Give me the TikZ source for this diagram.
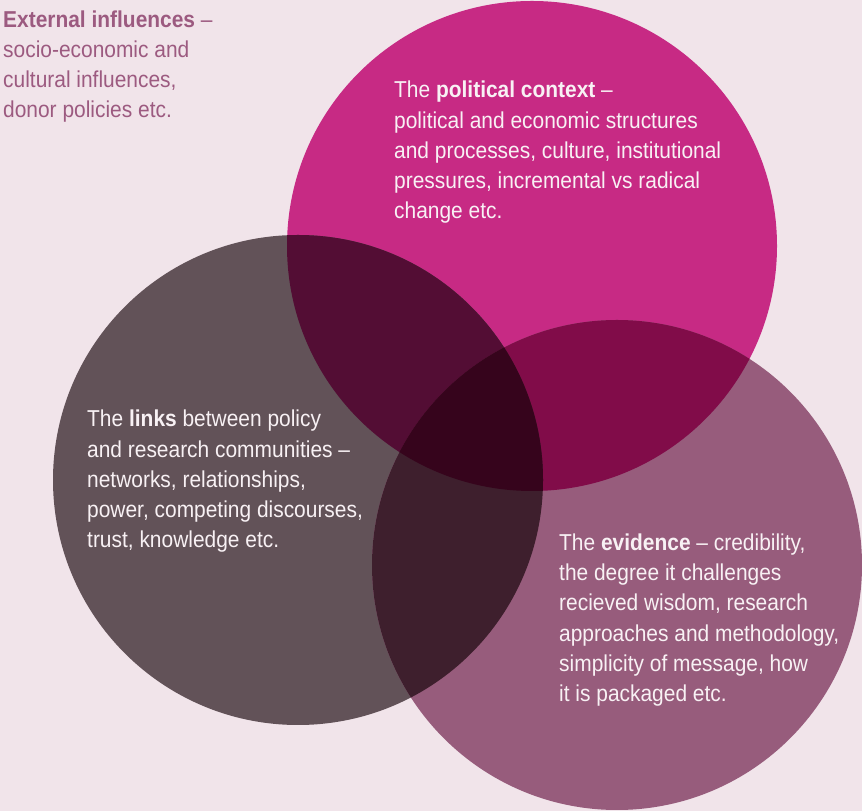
\documentclass[tikz,border=0pt]{standalone}
\usepackage{fontspec}
\setmainfont[FakeStretch=0.91]{Liberation Sans}
\usepackage{tikz}
\usetikzlibrary{positioning}
\definecolor{paper}{HTML}{F1E4EA}
\definecolor{magenta}{HTML}{C72A84}
\definecolor{slate}{HTML}{625258}
\definecolor{mauve}{HTML}{975C7C}
\definecolor{plum}{HTML}{530D34}
\definecolor{wine}{HTML}{810C49}
\definecolor{umber}{HTML}{3E1F2D}
\definecolor{core}{HTML}{36041C}
\definecolor{note}{HTML}{9C5A80}
\definecolor{chalk}{HTML}{F8F1F4}
\tikzstyle{ring} = [circle, draw=none, inner sep=0pt, minimum size=490pt]
\tikzstyle{context} = [ring, fill=magenta]
\tikzstyle{links} = [ring, fill=slate]
\tikzstyle{evidence} = [ring, fill=mauve]
\tikzstyle{label} = [anchor=base west, inner sep=0pt, align=left, text=chalk, font=\fontsize{23}{30.3}\selectfont]

\begin{document}
\begin{tikzpicture}[x=1pt, y=1pt]

\fill[paper] (0,0) rectangle (862,811);
\useasboundingbox (0,0) rectangle (862,811);

% three circles =============================
\node[context] (ctx) at (532,565) {};
\node[links] (lnk) at (298,331) {};
\node[evidence] (evd) at (617,246) {};

% overlaps
\begin{scope}
\clip (ctx.center) circle (245);
\fill[plum] (lnk.center) circle (245);
\end{scope}
\begin{scope}
\clip (ctx.center) circle (245);
\fill[wine] (evd.center) circle (245);
\end{scope}
\begin{scope}
\clip (lnk.center) circle (245);
\fill[umber] (evd.center) circle (245);
\end{scope}
\begin{scope}
\clip (ctx.center) circle (245);
\clip (lnk.center) circle (245);
\fill[core] (evd.center) circle (245);
\end{scope}

% texts (anchored on the last line)
\node[label, text=note] (outside) at (3,693) {\textbf{External influences} --\\socio-economic and\\cultural influences,\\donor policies etc.};
\node[label] (ctxtext) at (394,592) {The \textbf{political context} --\\political and economic structures\\and processes, culture, institutional\\pressures, incremental vs radical\\change etc.};
\node[label] (lnktext) at (87,263) {The \textbf{links} between policy\\and research communities --\\networks, relationships,\\power, competing discourses,\\trust, knowledge etc.};
\node[label] (evdtext) at (559,109.3) {The \textbf{evidence} -- credibility,\\the degree it challenges\\recieved wisdom, research\\approaches and methodology,\\simplicity of message, how\\it is packaged etc.};

\end{tikzpicture}
\end{document}
